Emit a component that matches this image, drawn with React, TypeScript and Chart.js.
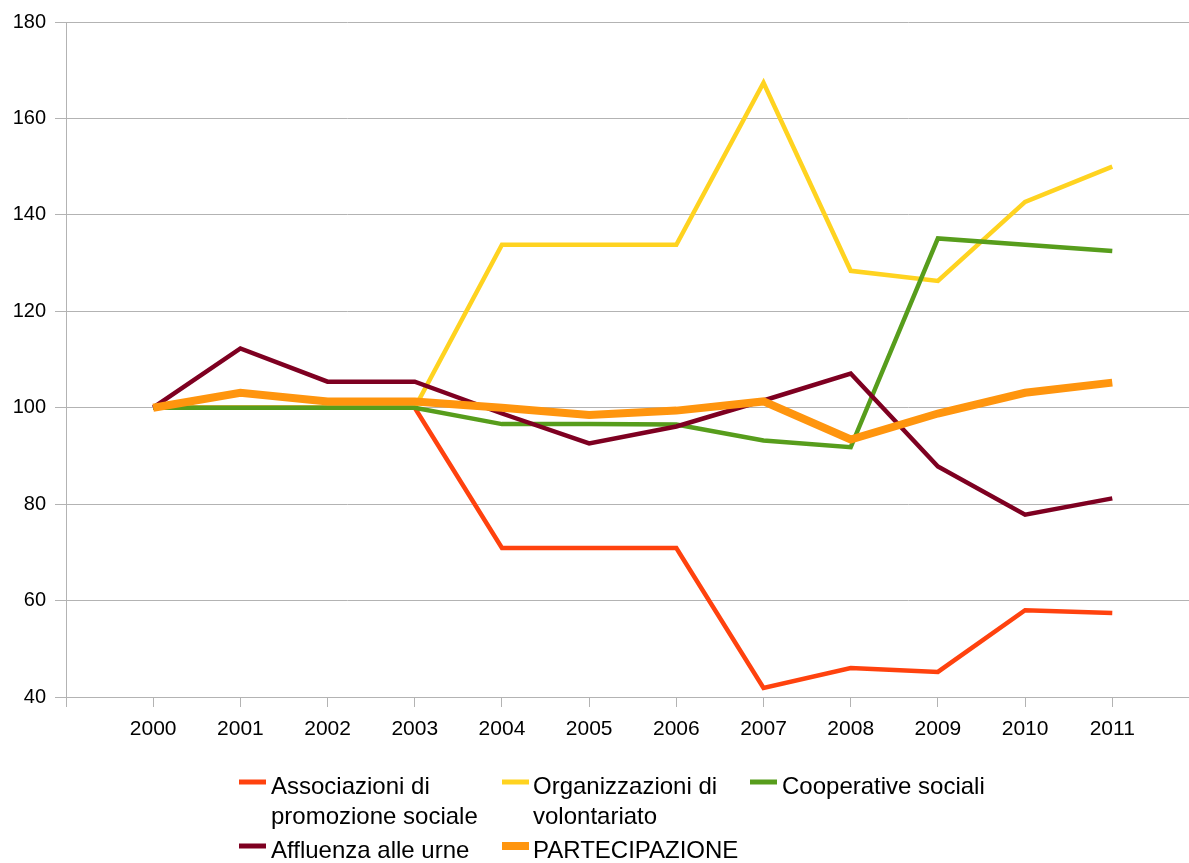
import React, { useEffect, useRef } from 'react';
import { Chart, registerables } from 'chart.js';

Chart.register(...registerables);

const years = [2000, 2001, 2002, 2003, 2004, 2005, 2006, 2007, 2008, 2009, 2010, 2011];
const associazioni = [100, 100, 100, 100, 70.9, 70.9, 70.9, 41.9, 46.0, 45.2, 58.0, 57.4];
const organizzazioni = [100, 100, 100, 100, 133.8, 133.8, 133.8, 167.4, 128.4, 126.3, 142.7, 150.0];
const cooperative = [100, 100, 100, 100, 96.6, 96.6, 96.5, 93.2, 91.8, 135.1, 133.8, 132.5];
const affluenza = [100, 112.3, 105.4, 105.4, 98.8, 92.6, 96.1, 101.5, 107.1, 87.8, 77.8, 81.2];
const partecipazione = [100, 103.1, 101.3, 101.3, 100.0, 98.5, 99.4, 101.3, 93.4, 98.8, 103.1, 105.2];
const yTickValues = [40, 60, 80, 100, 120, 140, 160, 180];

const seriesLabels = [
  ['Associazioni di', 'promozione sociale'],
  ['Organizzazioni di', 'volontariato'],
  ['Cooperative sociali'],
  ['Affluenza alle urne'],
  ['PARTECIPAZIONE'],
];
const seriesColors = ['#ff420e', '#ffd320', '#579d1c', '#7e0021', '#ff950e'];

const FONT = '"Liberation Sans", Arial, sans-serif';

const legendPlugin = {
  id: 'customLegend',
  afterDraw(chart: any) {
    const ctx = chart.ctx;
    ctx.save();
    ctx.font = `24px ${FONT}`;
    ctx.fillStyle = '#000';
    ctx.textBaseline = 'alphabetic';
    ctx.textAlign = 'left';
    const cols = [
      { sx: 239, tx: 271 },
      { sx: 502, tx: 533 },
      { sx: 750, tx: 782 },
    ];
    const rowBase = [794, 858];
    const lineGap = 30;
    chart.data.datasets.forEach((ds: any, i: number) => {
      const col = cols[i % 3];
      const row = Math.floor(i / 3);
      const base = rowBase[row];
      ctx.strokeStyle = ds.borderColor;
      ctx.lineWidth = i === 4 ? 8 : 5;
      ctx.lineCap = 'butt';
      ctx.beginPath();
      ctx.moveTo(col.sx, base - 12);
      ctx.lineTo(col.sx + 27, base - 12);
      ctx.stroke();
      const lines = seriesLabels[i];
      lines.forEach((t, k) => {
        ctx.fillText(t, col.tx, base + k * lineGap);
      });
    });
    ctx.restore();
  },
};

export default function App() {
  const ref = useRef<HTMLCanvasElement | null>(null);
  useEffect(() => {
    if (!ref.current) return;
    const mk = (i: number, data: number[], order: number) => ({
      label: seriesLabels[i].join(' '),
      data: years.map((y, k) => ({ x: y, y: data[k] })),
      borderColor: seriesColors[i],
      backgroundColor: seriesColors[i],
      borderWidth: i === 4 ? 8 : 4.5,
      pointRadius: 0,
      tension: 0,
      fill: false,
      order,
      borderCapStyle: 'butt',
      borderJoinStyle: 'miter',
    });
    const chart = new Chart(ref.current, {
      type: 'line',
      data: {
        datasets: [
          mk(0, associazioni, 4),
          mk(1, organizzazioni, 3),
          mk(2, cooperative, 2),
          mk(3, affluenza, 1),
          mk(4, partecipazione, 0),
        ] as any,
      },
      options: {
        animation: false,
        responsive: false,
        maintainAspectRatio: false,
        layout: { padding: { top: 22, left: 0, right: 0, bottom: 0 } },
        plugins: {
          legend: { display: false },
          tooltip: { enabled: false },
        },
        scales: {
          x: {
            type: 'linear',
            min: 1999,
            max: 2011.88,
            afterBuildTicks: (s: any) => {
              s.ticks = [1999, ...years].map((v) => ({ value: v }));
            },
            afterFit: (s: any) => {
              s.height = 166;
            },
            grid: {
              drawOnChartArea: false,
              drawTicks: true,
              tickLength: 10,
              color: '#b3b3b3',
            },
            border: { display: true, color: '#b3b3b3', width: 1 },
            ticks: {
              autoSkip: false,
              maxRotation: 0,
              padding: 10,
              color: '#000',
              font: { family: FONT, size: 21 },
              callback: (v: any) => (v >= 2000 ? String(v) : ''),
            },
          },
          y: {
            type: 'linear',
            min: 40,
            max: 180,
            afterBuildTicks: (s: any) => {
              s.ticks = yTickValues.map((v) => ({ value: v }));
            },
            afterFit: (s: any) => {
              s.width = 66;
            },
            grid: {
              drawOnChartArea: true,
              drawTicks: true,
              tickLength: 11,
              color: '#b3b3b3',
            },
            border: { display: true, color: '#b3b3b3', width: 1 },
            ticks: {
              padding: 9,
              color: '#000',
              font: { family: FONT, size: 20 },
            },
          },
        },
      } as any,
      plugins: [legendPlugin],
    });
    return () => chart.destroy();
  }, []);
  return (
    <div style={{ position: 'fixed', left: 0, top: 0, width: 1189, height: 863, background: '#fff' }}>
      <canvas ref={ref} width={1189} height={863} style={{ display: 'block', width: 1189, height: 863 }} />
    </div>
  );
}
